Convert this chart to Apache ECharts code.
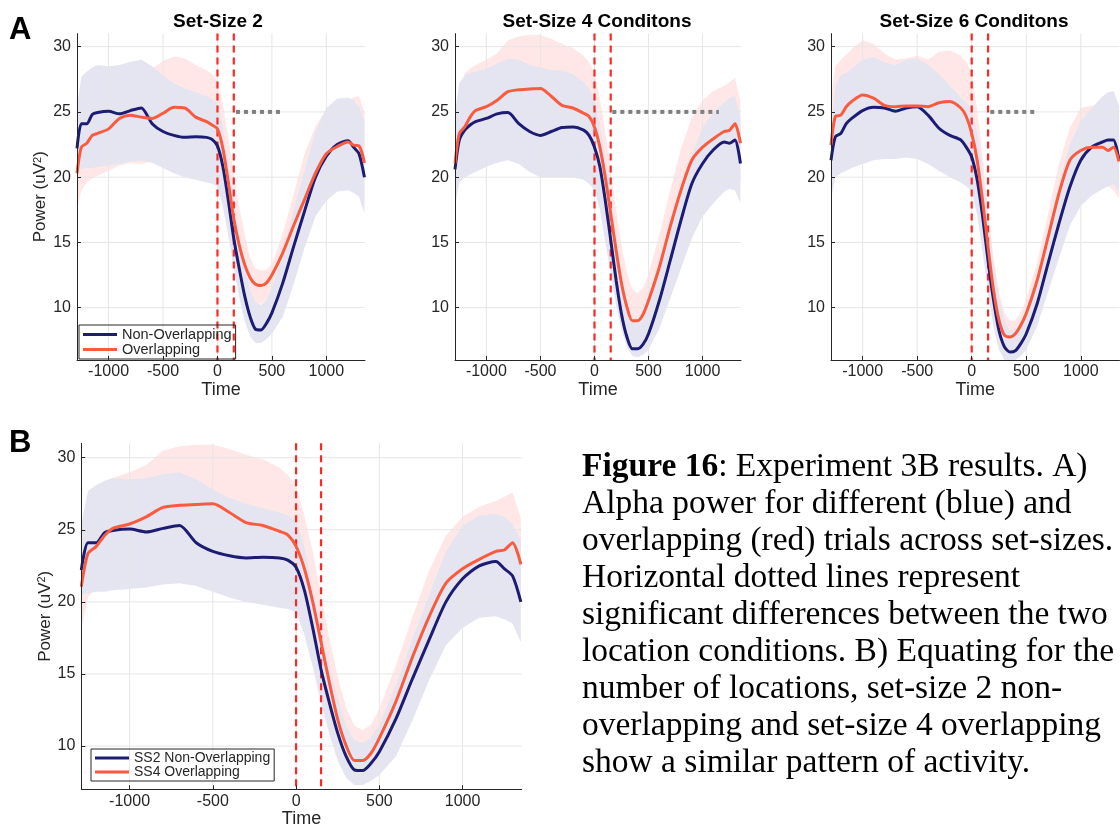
<!DOCTYPE html>
<html>
<head>
<meta charset="utf-8">
<script src="https://cdn.jsdelivr.net/npm/echarts@6/dist/echarts.min.js"></script>
<style>html,body{margin:0;padding:0;background:#fff}#c{width:1120px;height:829px}</style>
</head>
<body>
<div id="c"></div>
<script>
// ---------- data ----------
const time = [-1290,-1250,-1200,-1150,-1100,-1000,-900,-800,-700,-600,-500,-400,-300,-200,-100,-50,0,50,100,150,200,250,300,350,400,450,500,600,700,800,900,1000,1100,1200,1250,1300,1350];

// Set-size 2
const ss2NonMean = [22.2,24.1,24.1,24.8,24.95,25.05,24.85,25.1,25.3,24.1,23.5,23.2,23.05,23.1,23.05,22.9,22.4,20.8,18.2,15.3,13.0,10.9,9.3,8.35,8.3,8.8,9.6,11.9,14.7,17.4,20.0,21.6,22.5,22.8,22.3,21.8,20.0];
const ss2NonLo   = [20.5,20.6,20.7,20.7,20.8,20.9,21.0,21.2,21.3,21.1,20.7,20.3,20.0,19.8,19.6,19.5,19.3,17.7,15.5,13.0,10.8,9.0,7.8,7.3,7.3,7.6,8.0,9.3,11.8,14.6,17.0,18.2,18.9,19.0,18.8,18.5,17.2];
const ss2NonHi   = [25.4,27.7,28.1,28.4,28.6,28.5,28.6,28.85,29.0,28.5,27.8,27.2,26.8,26.5,26.2,26.0,25.7,23.8,21.0,18.2,15.6,13.3,11.4,10.4,10.2,10.6,11.5,14.2,17.5,20.5,23.5,25.3,26.0,26.1,25.9,25.4,24.3];
const ss2OvMean  = [20.3,22.3,22.6,23.2,23.35,23.7,24.5,24.75,24.6,24.5,24.9,25.35,25.3,24.6,24.25,24.0,23.7,22.2,19.6,16.8,14.8,13.3,12.3,11.8,11.7,11.9,12.5,14.2,16.3,18.3,20.3,21.8,22.35,22.7,22.45,22.4,21.1];
const ss2OvLo    = [17.5,19.0,19.6,19.9,20.1,20.5,20.9,21.1,21.0,21.2,21.5,21.7,21.8,21.7,21.4,21.2,20.8,19.0,16.5,14.0,12.3,11.3,10.7,10.3,10.3,10.6,11.2,12.8,14.4,16.2,17.8,18.8,19.3,19.6,19.5,19.2,18.2];
const ss2OvHi    = [23.5,25.5,26.0,26.2,26.4,26.8,27.3,27.6,27.8,28.3,28.9,29.25,29.1,28.6,28.2,27.9,27.4,25.6,23.0,20.2,17.7,15.6,13.8,13.0,12.85,12.9,13.3,15.7,18.7,21.8,23.9,25.2,25.8,25.9,26.1,26.2,25.0];

// Set-size 4
const ss4NonMean = [20.6,22.85,23.6,24.0,24.25,24.5,24.85,24.95,24.1,23.5,23.2,23.5,23.8,23.85,23.6,23.2,22.3,20.8,18.2,15.2,12.1,9.5,7.75,6.85,6.85,7.2,8.0,10.55,13.6,16.7,19.5,21.05,22.1,22.7,22.6,22.85,21.05];
const ss4NonLo   = [17.8,19.6,20.0,20.2,20.4,20.8,21.1,21.3,21.0,20.4,20.0,20.0,20.0,20.0,19.8,19.5,19.0,17.5,15.0,12.6,10.2,8.3,7.0,6.3,6.2,6.4,6.8,8.4,10.7,13.0,15.3,17.0,18.0,18.9,19.1,19.0,18.0];
const ss4NonHi   = [25.0,27.2,27.8,28.0,28.1,28.3,28.7,29.1,29.0,28.6,28.4,28.2,28.2,27.9,27.3,26.8,26.0,24.0,21.5,18.5,15.3,12.6,10.4,9.0,8.8,9.2,10.2,12.6,15.7,18.8,21.7,23.8,25.0,25.7,26.1,26.2,24.5];
const ss4OvMean  = [21.05,23.35,23.85,24.6,25.1,25.4,25.9,26.55,26.7,26.75,26.8,26.2,25.5,25.3,24.9,24.65,23.85,22.3,20.0,17.2,14.4,11.85,10.05,9.0,9.0,9.5,10.55,13.1,16.2,19.0,21.3,22.3,22.95,23.5,23.6,24.1,22.6];
const ss4OvLo    = [18.1,20.3,21.0,21.4,21.8,22.2,22.5,22.7,22.8,22.8,22.8,22.4,21.8,21.5,20.9,20.5,19.8,18.3,16.3,13.8,11.5,9.5,8.2,7.5,7.4,7.7,8.5,10.5,13.5,16.0,18.2,19.3,19.9,20.3,20.4,20.5,19.8];
const ss4OvHi    = [22.0,26.0,28.0,28.3,28.6,29.0,29.5,30.5,30.8,30.9,30.9,30.6,30.2,29.9,29.3,28.8,28.0,26.0,23.5,20.5,17.5,14.8,12.7,11.4,11.1,11.5,12.6,15.6,19.0,22.2,24.6,25.9,26.6,27.0,27.3,27.6,25.8];

// Set-size 6
const ss6NonMean = [21.3,23.1,23.35,24.1,24.5,25.1,25.35,25.3,25.05,25.3,25.4,24.75,23.75,23.2,22.85,22.3,21.55,19.8,17.0,13.6,10.6,8.25,7.0,6.6,6.7,7.25,8.0,10.3,13.4,16.45,19.25,21.3,22.3,22.7,22.85,22.85,21.3];
const ss6NonLo   = [18.3,20.0,20.3,20.5,20.7,21.0,21.3,21.4,21.4,21.5,21.4,21.0,20.5,20.0,19.6,19.3,18.9,17.1,14.2,11.2,8.5,6.8,6.0,6.0,6.0,6.3,6.8,8.6,11.2,13.8,16.3,17.8,18.6,19.1,19.3,19.5,18.8];
const ss6NonHi   = [23.5,27.0,27.8,28.0,28.3,29.0,29.2,28.8,28.6,29.0,29.1,28.6,27.9,27.0,26.1,25.7,25.2,23.4,20.5,17.0,13.5,10.8,9.0,8.2,8.3,8.9,9.8,12.2,15.7,19.5,22.5,24.3,25.3,26.2,26.5,26.6,25.5];
const ss6OvMean  = [22.45,24.65,24.75,25.4,25.8,26.3,26.05,25.5,25.4,25.45,25.45,25.4,25.7,25.8,25.3,24.65,23.35,21.3,18.2,14.65,11.35,9.05,7.9,7.75,8.0,8.65,9.55,12.1,15.4,18.75,21.3,22.05,22.3,22.3,22.05,22.3,21.2];
const ss6OvLo    = [19.5,21.0,21.3,21.6,21.8,22.0,22.0,21.8,21.7,21.8,21.8,21.7,21.8,21.9,21.4,20.6,19.5,17.3,14.8,11.8,9.2,7.4,6.6,6.5,6.8,7.5,8.5,10.5,13.4,16.5,18.8,19.5,19.6,19.4,19.3,19.0,18.4];
const ss6OvHi    = [26.0,28.5,29.0,29.4,29.8,30.5,30.2,29.5,29.0,29.1,29.3,29.0,29.6,29.7,29.3,28.8,28.0,25.2,21.5,17.5,13.8,11.2,9.6,9.0,9.0,9.6,10.7,13.5,17.2,21.0,23.8,25.3,25.5,25.5,25.3,25.0,24.0];

const xTicks = [-1000, -500, 0, 500, 1000];
const yTicks = [10, 15, 20, 25, 30];
const timeMin = -1290, timeMax = 1355, powerMax = 31;
const eventTimes = [0, 150];
const sigLevel = 25;
const sigSS2 = [170, 600];
const sigSS4 = [165, 1150];
const sigSS6 = [170, 600];
const panelTitles = ['Set-Size 2', 'Set-Size 4 Conditons', 'Set-Size 6 Conditons'];
const legendA = ['Non-Overlapping', 'Overlapping'];
const legendB = ['SS2 Non-Overlapping', 'SS4 Overlapping'];
const captionLines = [
  '{b|Figure 16}: Experiment 3B results. A)',
  'Alpha power for different (blue) and',
  'overlapping (red) trials across set-sizes.',
  'Horizontal dotted lines represent',
  'significant differences between the two',
  'location conditions. B) Equating for the',
  'number of locations, set-size 2 non-',
  'overlapping and set-size 4 overlapping',
  'show a similar pattern of activity.'
];

// ---------- styling ----------
const SANS = "'Liberation Sans', Arial, Helvetica, sans-serif";
const SERIF = "'Liberation Serif', 'Times New Roman', serif";
const INK = '#262626';
const NAVY = '#1c1c72';
const ORANGE = '#f95b3f';
const LAV = '#e4e5f0';
const PINK = '#ffe7e7';
const GRIDC = '#e6e6e6';

const panels = [
  { ymin: 6, blue: [ss2NonMean, ss2NonLo, ss2NonHi], red: [ss2OvMean, ss2OvLo, ss2OvHi], names: legendA, sig: sigSS2, yName: true },
  { ymin: 6, blue: [ss4NonMean, ss4NonLo, ss4NonHi], red: [ss4OvMean, ss4OvLo, ss4OvHi], names: legendA, sig: sigSS4, yName: false },
  { ymin: 6, blue: [ss6NonMean, ss6NonLo, ss6NonHi], red: [ss6OvMean, ss6OvLo, ss6OvHi], names: legendA, sig: sigSS6, yName: false },
  { ymin: 7, blue: [ss2NonMean, ss2NonLo, ss2NonHi], red: [ss4OvMean, ss4OvLo, ss4OvHi], names: legendB, sig: null, yName: true }
];
const gridBoxes = [
  { left: 77, top: 33.6, width: 288, height: 326.3 },
  { left: 455, top: 33.6, width: 286, height: 326.3 },
  { left: 831, top: 33.6, width: 288.5, height: 326.3 },
  { left: 81.3, top: 443.3, width: 440.4, height: 346 }
];

function bandRender(color) {
  return function (params, api) {
    if (params.dataIndexInside !== 0) return null;
    const n = params.dataInsideLength;
    const up = [], lo = [];
    for (let i = 0; i < n; i++) {
      const t = api.value(0, i);
      up.push(api.coord([t, api.value(2, i)]));
      lo.push(api.coord([t, api.value(1, i)]));
    }
    return { type: 'polygon', shape: { points: up.concat(lo.reverse()) }, style: { fill: color } };
  };
}
function vLineRender(style) {
  return function (params, api) {
    const cs = params.coordSys;
    const x = api.coord([api.value(0), api.value(1)])[0];
    return { type: 'line', shape: { x1: x, y1: cs.y, x2: x, y2: cs.y + cs.height }, style: style };
  };
}
function hLineRender(style) {
  return function (params, api) {
    const cs = params.coordSys;
    const y = api.coord([api.value(0), api.value(1)])[1];
    return { type: 'line', shape: { x1: cs.x, y1: y, x2: cs.x + cs.width, y2: y }, style: style };
  };
}
const plainNum = v => String(v);

const grid = gridBoxes.map(b => Object.assign({ containLabel: false, outerBoundsMode: 'none' }, b));
const xAxis = [], yAxis = [], series = [];

panels.forEach((p, gi) => {
  xAxis.push({
    type: 'value', gridIndex: gi, min: timeMin, max: timeMax, z: 6,
    axisLine: { show: true, onZero: false, lineStyle: { color: INK, width: 1 } },
    axisTick: { show: true, inside: true, length: 4, customValues: xTicks, lineStyle: { color: INK } },
    axisLabel: { show: true, customValues: xTicks, formatter: plainNum, fontSize: 16, color: INK, margin: 4, fontFamily: SANS },
    splitLine: { show: false },
    name: 'Time', nameLocation: 'middle', nameGap: 21,
    nameTextStyle: { fontSize: 18, color: INK, fontFamily: SANS }
  });
  const ya = {
    type: 'value', gridIndex: gi, min: p.ymin, max: powerMax, z: 6,
    axisLine: { show: true, onZero: false, lineStyle: { color: INK, width: 1 } },
    axisTick: { show: true, inside: true, length: 4, customValues: yTicks, lineStyle: { color: INK } },
    axisLabel: { show: true, customValues: yTicks, formatter: plainNum, fontSize: 16, color: INK, margin: 6, fontFamily: SANS },
    splitLine: { show: false }
  };
  if (p.yName) {
    Object.assign(ya, {
      name: 'Power (uV{sup|2})', nameLocation: 'middle', nameRotate: 90, nameGap: 26,
      nameTextStyle: { fontSize: 17, color: INK, fontFamily: SANS,
        rich: { sup: { fontSize: 11, color: INK, fontFamily: SANS, verticalAlign: 'top' } } }
    });
  }
  yAxis.push(ya);

  const bandData = arr => time.map((t, i) => [t, arr[1][i], arr[2][i]]);
  series.push({
    type: 'custom', xAxisIndex: gi, yAxisIndex: gi, z: 1, silent: true, clip: true,
    encode: { x: 0, y: [1, 2] }, data: bandData(p.red), renderItem: bandRender(PINK)
  });
  series.push({
    type: 'custom', xAxisIndex: gi, yAxisIndex: gi, z: 1, silent: true, clip: true,
    encode: { x: 0, y: [1, 2] }, data: bandData(p.blue), renderItem: bandRender(LAV)
  });
  series.push({
    type: 'custom', xAxisIndex: gi, yAxisIndex: gi, z: 2, silent: true,
    encode: { x: 0, y: 1 }, data: xTicks.map(v => [v, p.ymin]),
    renderItem: vLineRender({ stroke: GRIDC, lineWidth: 1 })
  });
  series.push({
    type: 'custom', xAxisIndex: gi, yAxisIndex: gi, z: 2, silent: true,
    encode: { x: 0, y: 1 }, data: yTicks.map(v => [timeMin, v]),
    renderItem: hLineRender({ stroke: GRIDC, lineWidth: 1 })
  });
  series.push({
    type: 'custom', xAxisIndex: gi, yAxisIndex: gi, z: 3, silent: true,
    encode: { x: 0, y: 1 }, data: eventTimes.map(v => [v, p.ymin]),
    renderItem: vLineRender({ stroke: '#ff2626', lineWidth: 2.2, lineDash: [7, 5] })
  });
  if (p.sig) {
    series.push({
      type: 'line', xAxisIndex: gi, yAxisIndex: gi, z: 3, silent: true,
      symbol: 'none', data: p.sig.map(t => [t, sigLevel]),
      lineStyle: { color: '#808080', width: 4, type: [4, 4], cap: 'butt' }
    });
  }
  series.push({
    type: 'line', name: p.names[0], xAxisIndex: gi, yAxisIndex: gi, z: 4, silent: true,
    symbol: 'none', smooth: 0.25, color: NAVY, itemStyle: { color: NAVY },
    lineStyle: { color: NAVY, width: 3 },
    data: time.map((t, i) => [t, p.blue[0][i]])
  });
  series.push({
    type: 'line', name: p.names[1], xAxisIndex: gi, yAxisIndex: gi, z: 4, silent: true,
    symbol: 'none', smooth: 0.25, color: ORANGE, itemStyle: { color: ORANGE },
    lineStyle: { color: ORANGE, width: 3 },
    data: time.map((t, i) => [t, p.red[0][i]])
  });
});

const legendBase = {
  orient: 'vertical', icon: 'rect', itemWidth: 34, itemHeight: 3, itemGap: 0,
  selectedMode: false, borderColor: INK, borderWidth: 1, backgroundColor: 'transparent',
  padding: [2, 4, 2, 4], z: 8
};
const legend = [
  Object.assign({}, legendBase, { data: legendA, left: 79, top: 325,
    textStyle: { fontSize: 14.5, lineHeight: 15, color: INK, fontFamily: SANS } }),
  Object.assign({}, legendBase, { data: legendB, left: 91, top: 749,
    textStyle: { fontSize: 14, lineHeight: 14, color: INK, fontFamily: SANS } })
];

const titleCenters = [218, 597, 974];
const graphic = [];
panelTitles.forEach((t, i) => graphic.push({
  type: 'text', x: titleCenters[i], y: 21.5, silent: true,
  style: { text: t, align: 'center', verticalAlign: 'middle', fill: '#000',
    fontSize: 19, fontWeight: 'bold', fontFamily: SANS }
}));
graphic.push({ type: 'text', x: 9, y: 30, silent: true,
  style: { text: 'A', align: 'left', verticalAlign: 'middle', fill: '#000', fontSize: 31, fontWeight: 'bold', fontFamily: SANS } });
graphic.push({ type: 'text', x: 9, y: 443, silent: true,
  style: { text: 'B', align: 'left', verticalAlign: 'middle', fill: '#000', fontSize: 31, fontWeight: 'bold', fontFamily: SANS } });
captionLines.forEach((line, i) => graphic.push({
  type: 'text', x: 582, y: 467 + i * 37, silent: true,
  style: { text: line, align: 'left', verticalAlign: 'middle', fill: '#000',
    fontSize: 33.5, fontFamily: SERIF,
    rich: { b: { fontWeight: 'bold', fontSize: 33.5, fontFamily: SERIF, fill: '#000', color: '#000' } } }
}));

const chart = echarts.init(document.getElementById('c'), null, { renderer: 'canvas' });
chart.setOption({
  animation: false,
  backgroundColor: '#fff',
  grid: grid,
  xAxis: xAxis,
  yAxis: yAxis,
  legend: legend,
  graphic: graphic,
  series: series
});
</script>
</body>
</html>
